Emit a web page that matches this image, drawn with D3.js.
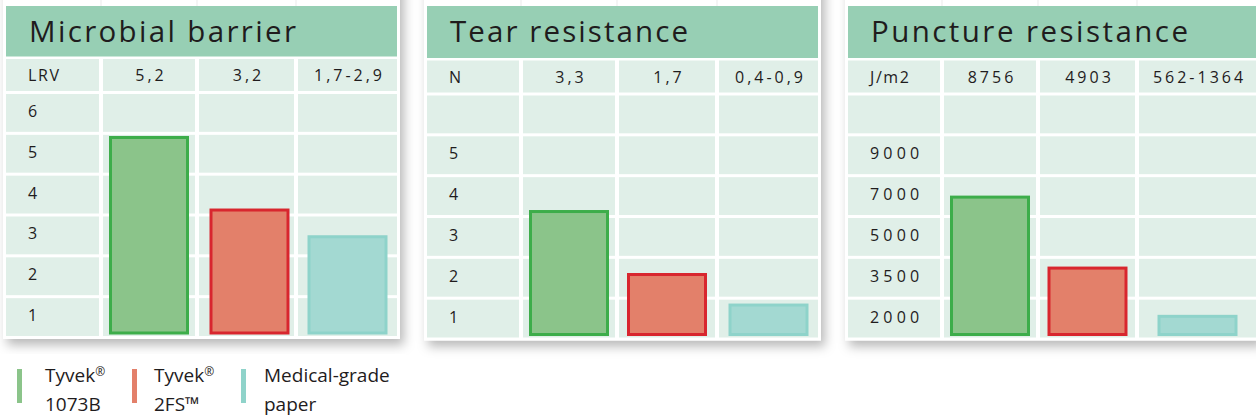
<!doctype html>
<meta charset="utf-8">
<title>Barrier properties</title>
<script src="https://cdn.jsdelivr.net/npm/d3@7"></script>
<style>
  body { margin: 0; background: #fff; }
  text { font-family: "Open Sans", sans-serif; fill: #1f1c1d; }
</style>
<body>
<svg id="chart" width="1256" height="419"></svg>
<script>
// --- data ---
var titles = ["Microbial barrier", "Tear resistance", "Puncture resistance"];
var units = ["LRV", "N", "J/m2"];
var materials = ["Tyvek 1073B", "Tyvek 2FS", "Medical-grade paper"];
var valueLabels = [
    ["5,2", "3,2", "1,7-2,9"],
    ["3,3", "1,7", "0,4-0,9"],
    ["8756", "4903", "562-1364"]
];
var rowLabels = [
    ["6", "5", "4", "3", "2", "1"],
    ["", "5", "4", "3", "2", "1"],
    ["", "9000", "7000", "5000", "3500", "2000"]
];
// bar heights as drawn (in each panel's own units)
var barValues = [
    [5.2, 3.3, 2.6],
    [3.3, 1.65, 0.85],
    [8756, 4330, 1320]
];
var scaleMax = [6.3, 6.3, 15000];
var legendLines = [["Tyvek", "1073B"], ["Tyvek", "2FS™"], ["Medical-grade", "paper"]];

// --- layout / style ---
var fills = ["#8bc48a", "#e3806a", "#a3d9d2"]
    , strokes = ["#3dad4a", "#d8262e", "#8ed3ca"]
    , swatch = ["#8bc48a", "#e3806a", "#8fd3ca"];

var panelX = [6, 427, 848]
    , bodyDy = [0, 1.5, 1.5]
    , colW = [[93, 92, 95, 99], [92, 92, 96, 99], [92, 92, 95, 117]]
    , titleLen = [267, 238, 317]
    , gap = 4
    , barW = 80;

var svg = d3.select('#chart');

var defs = svg.append('defs');
defs.append('filter')
    .attr('id', 'shadow')
    .attr('x', '-10%').attr('y', '-10%')
    .attr('width', '120%').attr('height', '130%')
    .append('feDropShadow')
    .attr('dx', 4).attr('dy', 6)
    .attr('stdDeviation', 5.5)
    .attr('flood-color', '#000')
    .attr('flood-opacity', 0.28);

function drawPanel(p) {
    var x0 = panelX[p], dy = bodyDy[p];
    var widths = colW[p];
    var starts = [];
    var acc = x0;
    widths.forEach(function(w) { starts.push(acc); acc += w + gap; });
    var right = acc - gap;

    var g = svg.append('g').attr('class', 'panel');

    // white card with shadow
    g.append('rect')
        .attr('x', x0 - 3).attr('y', -20)
        .attr('width', right - x0 + 6)
        .attr('height', 339 + dy + 20)
        .attr('fill', '#fff')
        .attr('filter', 'url(#shadow)');

    // faint column seams above the header
    g.selectAll('line.seam')
        .data(starts.slice(1))
        .enter().append('line')
        .attr('x1', function(d) { return d - 2 }).attr('x2', function(d) { return d - 2 })
        .attr('y1', 0).attr('y2', 6)
        .attr('stroke', '#ebebeb').attr('stroke-width', 1);

    // header
    g.append('rect')
        .attr('x', x0).attr('y', 6)
        .attr('width', right - x0).attr('height', 50.5 + dy)
        .attr('fill', '#97cfb4');

    g.append('text')
        .attr('x', x0 + 23).attr('y', 42)
        .attr('textLength', titleLen[p])
        .attr('lengthAdjust', 'spacing')
        .style('font-size', '29.5px')
        .text(titles[p]);

    // label row
    var labelTop = 59 + dy, labelH = 32;
    g.selectAll('rect.lab')
        .data(widths)
        .enter().append('rect')
        .attr('x', function(d, i) { return starts[i] })
        .attr('y', labelTop)
        .attr('width', function(d) { return d })
        .attr('height', labelH)
        .attr('fill', '#e0efe8');

    g.append('text')
        .attr('x', x0 + 22).attr('y', labelTop + 22)
        .style('font-size', '16px')
        .style('letter-spacing', '1.6px')
        .text(units[p]);

    g.selectAll('text.val')
        .data(valueLabels[p])
        .enter().append('text')
        .attr('x', function(d, i) { return starts[i + 1] + widths[i + 1] / 2 + 2 })
        .attr('y', labelTop + 22)
        .attr('text-anchor', 'middle')
        .style('font-size', '16px')
        .style('letter-spacing', '3px')
        .text(function(d) { return d });

    // grid rows
    var rows = d3.scaleBand()
        .domain(d3.range(rowLabels[p].length))
        .range([94 + dy, 336 + dy])
        .paddingInner(0.0735);

    rowLabels[p].forEach(function(lab, r) {
        g.selectAll(null)
            .data(widths)
            .enter().append('rect')
            .attr('x', function(d, i) { return starts[i] })
            .attr('y', rows(r))
            .attr('width', function(d) { return d })
            .attr('height', rows.bandwidth())
            .attr('fill', '#e0efe8');
        g.append('text')
            .attr('x', x0 + 22)
            .attr('y', rows(r) + rows.bandwidth() / 2 + 4)
            .style('font-size', '16px')
            .style('letter-spacing', '4.2px')
            .text(lab);
    });

    // bars
    var y = d3.scaleLinear()
        .domain([0, scaleMax[p]])
        .range([rows.range()[1] - 1.5, rows.range()[0]]);

    var xc = d3.scaleOrdinal()
        .domain(materials)
        .range(materials.map(function(m, i) { return starts[i + 1] + widths[i + 1] / 2 }));

    g.selectAll('rect.bar')
        .data(barValues[p])
        .enter().append('rect')
        .attr('class', 'bar')
        .attr('x', function(d, i) { return xc(materials[i]) - barW / 2 + 1.5 + (p === 0 && i === 1 ? 3 : 0) })
        .attr('y', function(d) { return y(d) + 1.5 })
        .attr('width', barW - 3)
        .attr('height', function(d) { return y(0) - y(d) - 3 })
        .attr('fill', function(d, i) { return fills[i] })
        .attr('stroke', function(d, i) { return strokes[i] })
        .attr('stroke-width', 3);
}

d3.range(3).forEach(drawPanel);

// legend on a white patch over the shadow
var leg = svg.append('g');
leg.append('rect')
    .attr('x', 0).attr('y', 354)
    .attr('width', 406).attr('height', 65)
    .attr('fill', '#fff');

var legX = [17, 132, 241]
    , legTextX = [45, 154, 264];
legendLines.forEach(function(lines, i) {
    leg.append('rect')
        .attr('x', legX[i]).attr('y', 369)
        .attr('width', 5).attr('height', 34)
        .attr('fill', swatch[i]);
    var t = leg.append('text')
        .attr('x', legTextX[i]).attr('y', 382)
        .style('font-size', '19px');
    t.append('tspan').text(lines[0]);
    if (i < 2) {
        t.append('tspan')
            .attr('dy', -6)
            .style('font-size', '12px')
            .text('®');
    }
    leg.append('text')
        .attr('x', legTextX[i]).attr('y', 411)
        .style('font-size', '19px')
        .text(lines[1]);
});
</script>
</body>
